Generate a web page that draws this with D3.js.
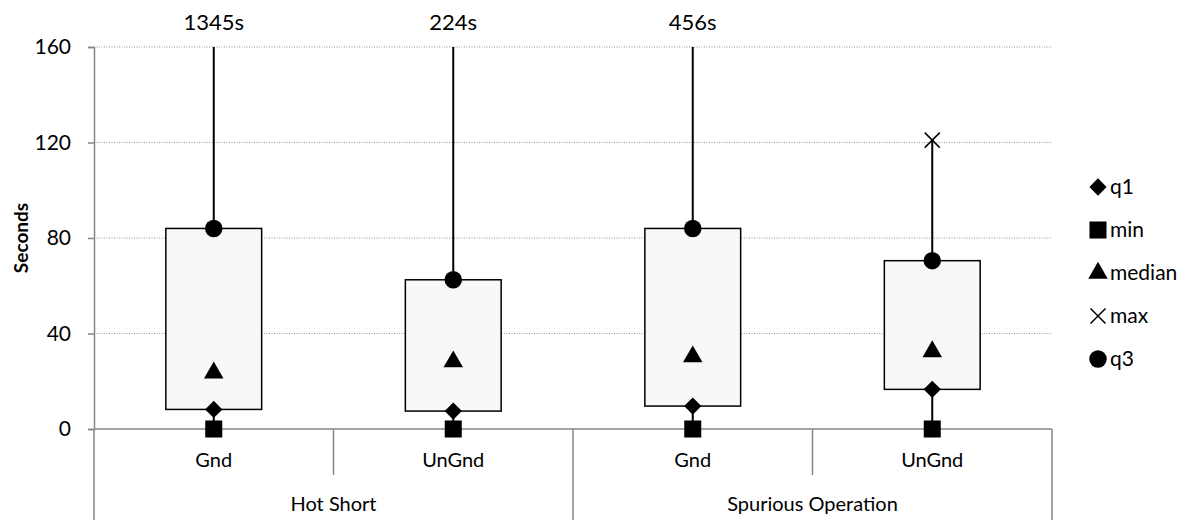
<!DOCTYPE html>
<html>
<head>
<meta charset="utf-8">
<script src="https://cdn.jsdelivr.net/npm/d3@7"></script>
<style>
  body { margin: 0; background: #fff; }
  svg text { font-family: Lato, "Open Sans", sans-serif; fill: #000; }
</style>
</head>
<body>
<svg id="chart" width="1190" height="520"></svg>
<script>
// chart values
var groups = ['Hot Short', 'Spurious Operation'];
var subCats = ['Gnd', 'UnGnd', 'Gnd', 'UnGnd'];
var minVals = [0, 0, 0, 0];
var q1Vals = [8.2, 7.5, 9.6, 16.6];
var medianVals = [23.5, 28.2, 30.3, 32.4];
var q3Vals = [84, 62.5, 84, 70.5];
var maxVals = [1345, 224, 456, 121];
var yTicks = [0, 40, 80, 120, 160];
var legendKeys = ['q1', 'min', 'median', 'max', 'q3'];

var margin = {top: 47, right: 138, bottom: 91, left: 94},
    width = 1190, height = 520;

var svg = d3.select('#chart');
var idx = d3.range(subCats.length);

var x = d3.scaleBand().domain(idx).range([margin.left, width - margin.right]).padding(0);
var y = d3.scaleLinear().domain([0, 160]).range([height - margin.bottom, margin.top]);
var ymax = y.domain()[1];

var axisCol = '#868686';

// gridlines
svg.append('g').selectAll('line').data(yTicks.filter(function(d) { return d > 0; }))
  .enter().append('line')
  .attr('x1', x.range()[0]).attr('x2', x.range()[1])
  .attr('y1', function(d) { return y(d); }).attr('y2', function(d) { return y(d); })
  .attr('stroke', '#969696').attr('stroke-width', 1).attr('stroke-dasharray', '1,1.5');

// y axis
var yAxis = svg.append('g').attr('transform', 'translate(' + margin.left + ',0)')
  .call(d3.axisLeft(y).tickValues(yTicks).tickSize(6).tickPadding(17));
yAxis.select('.domain').attr('stroke', axisCol).attr('stroke-width', 1.5);
yAxis.selectAll('.tick line').attr('stroke', axisCol).attr('stroke-width', 1.5);
yAxis.selectAll('.tick text').style('font-size', '21px').style('font-family', 'Lato');

svg.append('text')
  .attr('transform', 'translate(28,' + y(80) + ') rotate(-90)')
  .attr('text-anchor', 'middle')
  .style('font-size', '19px').style('font-weight', 'bold')
  .text('Seconds');

// x axis with two level categories
var base = y(0);
var xa = svg.append('g');
xa.append('line').attr('x1', x.range()[0]).attr('x2', x.range()[1])
  .attr('y1', base).attr('y2', base).attr('stroke', axisCol).attr('stroke-width', 1.5);
var bounds = d3.range(subCats.length + 1);
xa.selectAll('line.div').data(bounds).enter().append('line')
  .attr('class', 'div')
  .attr('x1', function(d) { return x.range()[0] + d * x.bandwidth(); })
  .attr('x2', function(d) { return x.range()[0] + d * x.bandwidth(); })
  .attr('y1', base)
  .attr('y2', function(d) { return d % 2 === 0 ? height : base + 46; })
  .attr('stroke', axisCol).attr('stroke-width', 1.5);
xa.selectAll('text.sub').data(idx).enter().append('text')
  .attr('class', 'sub')
  .attr('x', function(d) { return x(d) + x.bandwidth() / 2; })
  .attr('y', base + 38)
  .attr('text-anchor', 'middle').style('font-size', '20px')
  .text(function(d) { return subCats[d]; });
xa.selectAll('text.grp').data(groups).enter().append('text')
  .attr('class', 'grp')
  .attr('x', function(d, i) { return x(i * 2) + x.bandwidth(); })
  .attr('y', base + 82)
  .attr('text-anchor', 'middle').style('font-size', '20px')
  .text(function(d) { return d; });

// whiskers
var cx = function(i) { return x(i) + x.bandwidth() / 2; };
var boxW = x.bandwidth() * 0.4;
var g = svg.append('g');
g.selectAll('line.wh').data(idx).enter().append('line')
  .attr('x1', cx).attr('x2', cx)
  .attr('y1', function(i) { return y(minVals[i]); })
  .attr('y2', function(i) { return y(Math.min(maxVals[i], ymax)); })
  .attr('stroke', '#000').attr('stroke-width', 2);

// boxes
g.selectAll('rect').data(idx).enter().append('rect')
  .attr('x', function(i) { return cx(i) - boxW / 2; })
  .attr('width', boxW)
  .attr('y', function(i) { return y(q3Vals[i]); })
  .attr('height', function(i) { return y(q1Vals[i]) - y(q3Vals[i]); })
  .attr('fill', '#f8f8f8').attr('stroke', '#000').attr('stroke-width', 1.5);

// markers
var sym = {
  q1: d3.symbol().type(d3.symbolDiamond2).size(190),
  min: d3.symbol().type(d3.symbolSquare).size(290),
  median: d3.symbol().type(d3.symbolTriangle).size(165),
  q3: d3.symbol().type(d3.symbolCircle).size(240)
};
var series = {q1: q1Vals, min: minVals, median: medianVals, max: maxVals, q3: q3Vals};

function drawMarker(sel, key) {
  if (key === 'max') {
    var s = 7.5;
    sel.append('path')
      .attr('d', 'M' + -s + ',' + -s + 'L' + s + ',' + s + 'M' + -s + ',' + s + 'L' + s + ',' + -s)
      .attr('stroke', '#000').attr('stroke-width', 1.5).attr('fill', 'none');
  } else {
    sel.append('path').attr('d', sym[key]()).attr('fill', '#000');
  }
}

legendKeys.forEach(function(key) {
  idx.forEach(function(i) {
    var v = series[key][i];
    if (v > ymax) return;
    var m = g.append('g').attr('transform', 'translate(' + cx(i) + ',' + y(v) + ')');
    drawMarker(m, key);
  });
});

// clipped max labels
svg.append('g').selectAll('text').data(idx.filter(function(i) { return maxVals[i] > ymax; }))
  .enter().append('text')
  .attr('x', cx).attr('y', 30)
  .attr('text-anchor', 'middle').style('font-size', '22px')
  .text(function(i) { return maxVals[i] + 's'; });

// legend
var leg = svg.append('g').attr('transform', 'translate(1098,187)');
var li = leg.selectAll('g').data(legendKeys).enter().append('g')
  .attr('transform', function(d, i) { return 'translate(0,' + i * 43 + ')'; });
li.each(function(d) { drawMarker(d3.select(this), d); });
li.append('text').attr('x', 12).attr('dy', '0.35em').style('font-size', '21px')
  .text(function(d) { return d; });
</script>
</body>
</html>
